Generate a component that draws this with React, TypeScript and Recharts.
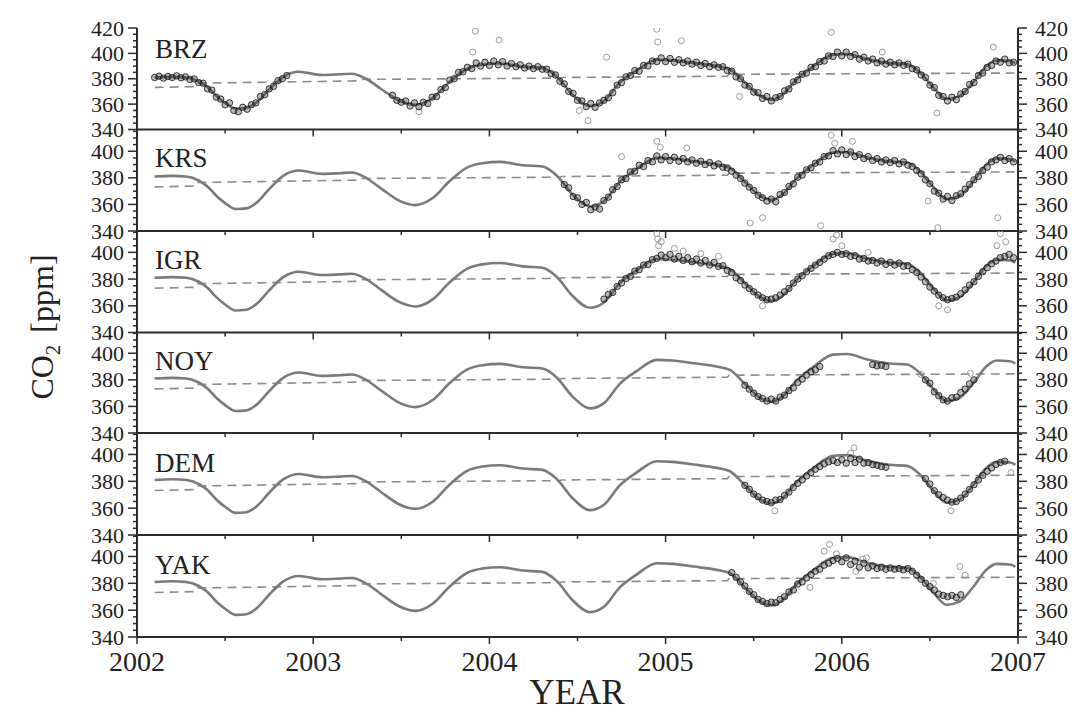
import { ComposedChart, Line, Scatter, XAxis, YAxis } from 'recharts';

const FONT = '"Liberation Serif", "Times New Roman", serif';
const AXIS = '#2b2b2b';
const STEP = 0.025;

// x ticks: years and half years
const xTicks = [2002, 2002.5, 2003, 2003.5, 2004, 2004.5, 2005, 2005.5, 2006, 2006.5, 2007];
const yTicksTop = [340, 345, 350, 355, 360, 365, 370, 375, 380, 385, 390, 395, 400, 405, 410, 415, 420];
const yTicksLow = [340, 345, 350, 355, 360, 365, 370, 375, 380, 385, 390, 395, 400, 405, 410, 415];

// smooth seasonal fit, drawn in every panel
const fitYears = [2002.1, 2002.2, 2002.28, 2002.35, 2002.4, 2002.45, 2002.5, 2002.56, 2002.62, 2002.68,
  2002.75, 2002.83, 2002.92, 2003.05, 2003.15, 2003.22, 2003.3, 2003.39, 2003.49, 2003.58,
  2003.68, 2003.77, 2003.87, 2003.96, 2004.06, 2004.19, 2004.3, 2004.38, 2004.475, 2004.57,
  2004.65, 2004.74, 2004.835, 2004.95, 2005.04, 2005.16, 2005.29, 2005.365, 2005.45, 2005.53,
  2005.6, 2005.66, 2005.74, 2005.84, 2005.95, 2006.03, 2006.14, 2006.27, 2006.37, 2006.44,
  2006.52, 2006.595, 2006.67, 2006.75, 2006.82, 2006.88, 2006.955, 2006.985];
const fitValues = [381, 381.5, 381, 378, 373.5, 366.5, 361, 356.5, 357, 361.5,
  371.5, 381.5, 385.5, 383, 383.5, 384, 380, 371.5, 362.7, 359.5,
  365, 377, 387.5, 391, 392, 389.5, 388.5, 382, 367, 358.5,
  362.5, 377, 386.5, 395, 394.5, 392.5, 390, 387.5, 377, 367,
  363.5, 367, 379, 390, 399, 399.5, 395.5, 392.3, 391.5, 385.5,
  373, 364, 366.5, 378, 390, 394.5, 394, 392.3];

// dashed trend
const trendYears = [2002.1, 2002.33, 2002.34, 2003.25, 2003.26, 2004.4, 2004.41, 2005.35, 2005.36, 2006.98];
const trendValues = [373.2, 373.8, 376.5, 378.3, 379.5, 380.5, 381, 382, 383.5, 384.5];

// observations, one value every 0.025 yr from the segment start
const brzObs1 = [381, 382, 380.5, 381.8, 381, 382.3, 380.8, 381.5, 379.5, 379.8, 377, 376.5, 372, 371, 365.5, 364,
  359.5, 361, 355, 354, 357.5, 356, 359.5, 361, 366, 367.5, 372, 374, 378.5, 380, 382.5];
const brzObs2 = [367, 363, 361.5, 362.5, 358.5, 361, 358, 361.5, 360.5, 365.5, 366, 371.5, 373, 379, 380, 385, 385.5, 389, 388, 392.5, 390, 393,
  390.5, 394, 391, 393.5, 390, 392, 389.5, 391, 388.5, 390, 388, 389.5, 387.5, 387.5, 384, 383, 378, 376, 370, 368.5,
  363, 362.5, 358, 360.5, 357.5, 361, 363, 365, 369, 375, 377, 381.5, 382.5, 386.5, 386, 390.5, 390, 394, 393.5, 396.5,
  393.5, 396, 393, 395, 392.5, 394, 391.5, 393, 390.5, 392, 389.5, 391, 389, 389.5, 386.5, 386, 381.5, 380, 375, 374,
  369.5, 369, 364.5, 366, 362.5, 365, 366, 370.5, 372, 377.5, 379, 383.5, 384.5, 389, 389.5, 393.5, 394, 398, 397.5, 401,
  398, 401, 397.5, 399, 395.5, 397, 394, 395.5, 392.5, 394, 391.5, 393, 391, 392.5, 390.5, 391.5, 388, 387, 383, 381,
  375, 373, 367, 366, 362.5, 365.5, 363.5, 368, 370, 375.5, 377, 382.5, 384.5, 389, 390.5, 394, 393, 395.5, 392.5, 393];
const krsObs = [375, 372.5, 366, 365, 360, 361.5, 356, 358, 356.5, 363, 365.5, 371, 373.5, 378.5, 379.5, 384.5, 385, 389.5, 388.5, 393, 392, 396.5, 393.5,
  396, 393, 395.5, 392.5, 394.5, 392, 393.5, 391, 392.5, 390, 391.5, 389, 390.5, 388, 387.5, 385, 382, 379.5, 376, 373,
  370.5, 367, 365, 362.5, 364, 362, 367.5, 369, 373.5, 375.5, 380.5, 382, 386, 387.5, 391, 392, 396, 396.5, 400.5, 398,
  401, 397.5, 399.5, 396, 397.5, 394.5, 396, 393, 394.5, 392, 393.5, 391.5, 393, 390.5, 392, 389.5, 388.5, 385.5, 383, 378.5,
  375.5, 370, 368.5, 364, 366, 363, 366.5, 368, 371.5, 375, 378.5, 381, 385.5, 388, 392, 393.5, 395.5, 393, 394.5, 392];
const igrObs = [365, 368.5, 370, 374.5, 377, 380.5, 382, 386, 387, 390.5, 391, 394.5, 395.5, 398,
  396, 398.5, 395, 397, 394, 396, 393, 395, 392, 394, 390.5, 392.5, 389.5, 390, 386.5, 385, 381, 379, 375.5, 373,
  370.5, 368, 366, 364.5, 365, 366, 368, 370.5, 373, 377, 380, 382.5, 385.5, 388, 390.5, 392.5, 395, 397.5, 398.5, 400,
  398.5, 399, 397, 397.5, 395, 395.5, 393.5, 394, 392, 393.5, 391, 392.5, 390.5, 392, 389.5, 390, 387, 385, 381.5, 378,
  374, 371, 368, 366, 364.5, 365.5, 366.5, 369, 372, 375.5, 378, 382, 385.5, 388.5, 391.5, 393.5, 396, 397, 398.5, 396];
const noyObs1 = [376, 373, 370, 367.5, 366, 364, 365.5, 364, 367, 368.5, 372, 374, 378, 380.5, 383.5, 386, 387.5, 390];
const noyObs2 = [391.5, 390.5, 391, 390];
const noyObs3 = [380, 377.5, 371, 368, 365, 364, 366.5, 367, 370.5, 373, 377, 380];
const demObs1 = [377, 374, 370.5, 368.5, 366, 365, 364, 366, 366.5, 369.5, 372, 375.5, 378.5, 381, 384, 386.5, 389, 391, 393, 394.5,
  395.5, 394, 396, 393.5, 397, 394, 396.5, 393.5, 394, 392.5, 392, 391, 390.5];
const demObs2 = [382, 378, 373, 370, 368, 366, 364.5, 365, 367.5, 370.5, 374, 377.5, 381, 384.5, 387.5, 390, 392.5, 394, 395];
const yakObs1 = [388, 384.5, 381, 378, 374, 371.5, 368, 366.5, 365, 366, 365.5, 368, 370, 373.5, 375, 379.5, 381, 384, 386.5, 389,
  390.5, 393.5, 395, 397, 398.5, 396, 399, 394, 396.5, 392, 395, 391.5, 393, 391, 392, 390.5, 391.5, 390.5, 391, 390, 391, 389];
const yakObs2 = [386, 383, 380, 377.5, 375, 372, 371, 370, 371, 369.5, 371.5];

// scattered outliers [year, ppm]
const brzOut = [[2003.6, 354], [2003.905, 401], [2003.92, 417.5], [2004.055, 410.5], [2004.51, 355], [2004.56, 347],
  [2004.665, 397], [2004.95, 419], [2004.955, 409], [2005.09, 410], [2005.42, 366], [2005.94, 416.5], [2006.23, 401],
  [2006.54, 353], [2006.86, 405]];
const krsOut = [[2004.75, 396], [2004.95, 407.5], [2004.97, 403], [2005.12, 402.5], [2005.48, 346], [2005.55, 350],
  [2005.88, 344], [2005.94, 412], [2005.96, 406], [2006.06, 407.5], [2006.49, 362.5], [2006.545, 342.5], [2006.885, 350]];
const igrOut = [[2004.95, 414], [2004.955, 410], [2004.96, 405], [2004.975, 408], [2005.05, 403], [2005.1, 401],
  [2005.2, 399], [2005.3, 397], [2005.55, 360], [2005.95, 410], [2005.97, 413], [2006.0, 405], [2006.15, 400],
  [2006.55, 360], [2006.6, 357], [2006.88, 405], [2006.9, 414], [2006.93, 408]];
const noyOut = [[2006.45, 384], [2006.73, 385]];
const demOut = [[2005.62, 358], [2006.05, 401], [2006.07, 405], [2006.62, 358], [2006.96, 386.5]];
const yakOut = [[2005.82, 377], [2005.9, 404], [2005.93, 409], [2005.97, 402], [2006.08, 389], [2006.12, 398],
  [2006.14, 399], [2006.52, 380], [2006.67, 392.5], [2006.7, 386]];

const fit = fitYears.map((t, i) => ({ t, v: fitValues[i] }));
const trend = trendYears.map((t, i) => ({ t, v: trendValues[i] }));
const toPts = (start: number, vals: number[]) => vals.map((v, i) => ({ t: +(start + i * STEP).toFixed(3), v }));
const toOut = (pairs: number[][]) => pairs.map(([t, v]) => ({ t, v }));

const panels = [
  { name: 'BRZ', top: 28, bottom: 129.5, max: 420, ticks: yTicksTop, label: 58,
    obs: [...toPts(2002.1, brzObs1), ...toPts(2003.45, brzObs2)], out: toOut(brzOut) },
  { name: 'KRS', top: 129.5, bottom: 230.5, max: 416, ticks: yTicksLow, label: 167,
    obs: toPts(2004.425, krsObs), out: toOut(krsOut) },
  { name: 'IGR', top: 230.5, bottom: 332, max: 416, ticks: yTicksLow, label: 269,
    obs: toPts(2004.65, igrObs), out: toOut(igrOut) },
  { name: 'NOY', top: 332, bottom: 433, max: 416, ticks: yTicksLow, label: 370,
    obs: [...toPts(2005.45, noyObs1), ...toPts(2006.175, noyObs2), ...toPts(2006.475, noyObs3)], out: toOut(noyOut) },
  { name: 'DEM', top: 433, bottom: 535, max: 416, ticks: yTicksLow, label: 472,
    obs: [...toPts(2005.45, demObs1), ...toPts(2006.475, demObs2)], out: toOut(demOut) },
  { name: 'YAK', top: 535, bottom: 637, max: 416, ticks: yTicksLow, label: 574,
    obs: [...toPts(2005.375, yakObs1), ...toPts(2006.425, yakObs2)], out: toOut(yakOut) },
];

const obsShape = (p: any) => (
  <circle cx={p.cx} cy={p.cy} r={3.2} fill="#333" fillOpacity={0.35} stroke="#151515" strokeOpacity={0.8} strokeWidth={1} />
);
const outShape = (p: any) => (
  <circle cx={p.cx} cy={p.cy} r={3} fill="none" stroke="#9a9a9a" strokeWidth={1} />
);

const YTick = (props: any) => {
  const { x, y, payload, side } = props;
  const v = payload.value;
  const major = v % 20 === 0;
  const dir = side === 'left' ? -1 : 1;
  return (
    <g>
      <line x1={x} x2={x + dir * (major ? 9 : 4)} y1={y} y2={y} stroke={AXIS} strokeWidth={1.5} />
      {major && (
        <text x={x + dir * (side === 'left' ? 13 : 17)} y={y} textAnchor={side === 'left' ? 'end' : 'start'}
          dominantBaseline="central" fontFamily={FONT} fontSize={22} fill="#222">{v}</text>
      )}
    </g>
  );
};

const XTick = (props: any) => {
  const { x, y, payload, showLabel } = props;
  const major = Number.isInteger(payload.value);
  return (
    <g>
      <line x1={x} x2={x} y1={y} y2={y + (major ? 7 : 4)} stroke={AXIS} strokeWidth={1.5} />
      {showLabel && major && (
        <text x={x} y={y + 34} textAnchor="middle" fontFamily={FONT} fontSize={28} fill="#222">{payload.value}</text>
      )}
    </g>
  );
};

const MT = 14;
const XH = 48;

function Panel({ p, last }: { p: any; last: boolean }) {
  const h = p.bottom - p.top;
  return (
    <div style={{ position: 'absolute', left: 0, top: p.top - MT }}>
      <ComposedChart width={1078} height={h + MT + XH} margin={{ top: MT, right: 0, bottom: 0, left: 77 }}>
        <XAxis dataKey="t" type="number" domain={[2002, 2007]} ticks={xTicks} interval={0} allowDataOverflow
          height={XH} axisLine={{ stroke: AXIS, strokeWidth: 2 }} tickLine={false} tickSize={0} tickMargin={0}
          tick={(tp: any) => <XTick {...tp} showLabel={last} />} />
        <YAxis yAxisId="l" dataKey="v" orientation="left" width={60} domain={[340, p.max]} ticks={p.ticks} interval={0}
          allowDataOverflow axisLine={{ stroke: AXIS, strokeWidth: 2 }} tickLine={false} tickSize={0} tickMargin={0}
          tick={(tp: any) => <YTick {...tp} side="left" />} />
        <YAxis yAxisId="r" dataKey="v" orientation="right" width={60} domain={[340, p.max]} ticks={p.ticks} interval={0}
          allowDataOverflow axisLine={{ stroke: AXIS, strokeWidth: 2 }} tickLine={false} tickSize={0} tickMargin={0}
          tick={(tp: any) => <YTick {...tp} side="right" />} />
        <Line yAxisId="r" data={trend} dataKey="v" type="linear" stroke="#8c8c8c" strokeWidth={1.6}
          strokeDasharray="9 6" dot={false} activeDot={false} isAnimationActive={false} />
        <Line yAxisId="l" data={fit} dataKey="v" type="monotone" stroke="#7a7a7a" strokeWidth={2.6}
          dot={false} activeDot={false} isAnimationActive={false} />
        <Scatter yAxisId="l" data={p.out} dataKey="v" shape={outShape} isAnimationActive={false} />
        <Scatter yAxisId="l" data={p.obs} dataKey="v" shape={obsShape} isAnimationActive={false} />
      </ComposedChart>
    </div>
  );
}

export default function App() {
  return (
    <div style={{ position: 'absolute', left: 0, top: 0, width: 1078, height: 713, background: '#fff', overflow: 'hidden' }}>
      {panels.map((p, i) => (
        <Panel key={p.name} p={p} last={i === panels.length - 1} />
      ))}
      <svg width={1078} height={713} style={{ position: 'absolute', left: 0, top: 0, pointerEvents: 'none' }}>
        {panels.map((p) => (
          <text key={p.name} x={155} y={p.label} fontFamily={FONT} fontSize={27} fill="#222">{p.name}</text>
        ))}
        <text x={577} y={704} textAnchor="middle" fontFamily={FONT} fontSize={35} fill="#222">YEAR</text>
        <text x={53} y={327} transform="rotate(-90 53 327)" textAnchor="middle" fontFamily={FONT} fontSize={32} fill="#222">
          CO<tspan dy={7} fontSize={21}>2</tspan><tspan dy={-7} dx={12}>[ppm]</tspan>
        </text>
      </svg>
    </div>
  );
}
